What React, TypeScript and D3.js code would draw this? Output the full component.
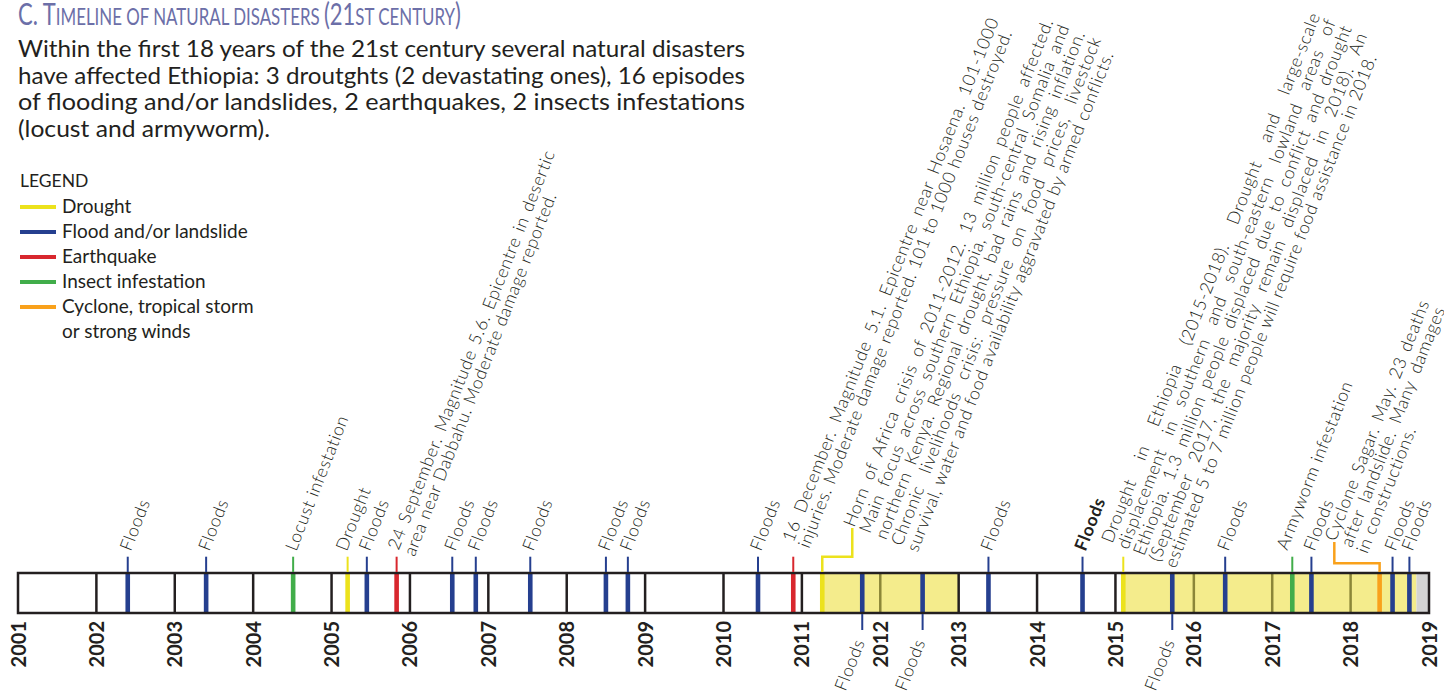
import * as d3 from "d3";
import { useEffect } from "react";

// axis years
const yearTicks = d3.range(2001, 2020);

// events, as decimal years
const floodDates = [2002.4, 2003.4, 2005.45, 2006.54, 2006.84, 2007.535, 2008.5, 2008.78, 2010.44, 2011.77, 2012.54, 2013.38, 2014.58, 2015.725, 2016.4, 2017.5, 2018.535, 2018.75];
const floodBelow = [0, 0, 0, 0, 0, 0, 0, 0, 0, 1, 1, 0, 0, 1, 0, 0, 0, 0];
const floodBold = [0, 0, 0, 0, 0, 0, 0, 0, 0, 0, 0, 0, 1, 0, 0, 0, 0, 0];

const droughtDates = [2005.205, 2011.26, 2015.1];
const droughtEnds = [2005.205, 2013.0, 2018.84];
const droughtLabels = [
  ["Drought"],
  [
    "Horn of Africa crisis of 2011-2012. 13 million people affected.",
    "Main focus across southern Ethiopia, south-central Somalia and",
    "northern Kenya. Regional drought, bad rains and rising inflation.",
    "Chronic livelihoods crisis: pressure on food prices, livestock",
    "survival, water and food availability aggravated by armed conflicts.",
  ],
  [
    "Drought in Ethiopia (2015-2018). Drought and large-scale",
    "displacement in southern and south-eastern lowland areas of",
    "Ethiopia. 1.3 million people displaced due to conflict and drought",
    "(September 2017, the majority remain displaced in 2018). An",
    "estimated 5 to 7 million people will require food assistance in 2018.",
  ],
];

const quakeDates = [2005.83, 2010.89];
const quakeLabels = [
  ["24 September. Magnitude 5.6. Epicentre in desertic", "area near Dabbahu. Moderate damage reported."],
  ["16 December. Magnitude 5.1. Epicentre near Hosaena. 101-1000", "injuries. Moderate damage reported. 101 to 1000 houses destroyed."],
];

const insectDates = [2004.51, 2017.256];
const insectLabels = ["Locust infestation", "Armyworm infestation"];

const cycloneDates = [2018.37];
const cycloneLabels = [["Cyclone Sagar. May. 23 deaths", "after landslide. Many damages", "in constructions."]];

const noDataStart = [2018.84];
const noDataEnd = [2019];

const legendKeys = ["drought", "flood", "quake", "insect", "cyclone"];
const legendLabels = [["Drought"], ["Flood and/or landslide"], ["Earthquake"], ["Insect infestation"], ["Cyclone, tropical storm", "or strong winds"]];

const introLines = [
  "Within the first 18 years of the 21st century several natural disasters",
  "have affected Ethiopia: 3 droutghts (2 devastating ones), 16 episodes",
  "of flooding and/or landslides, 2 earthquakes, 2 insects infestations",
  "(locust and armyworm).",
];

const colors: Record<string, string> = {
  drought: "#ece21c",
  flood: "#253f8f",
  quake: "#d8272e",
  insect: "#41ad4a",
  cyclone: "#f9a11b",
};

const W = 1444;
const H = 697;
const boxTop = 573;
const boxBottom = 613;
const tickTop = 556.7;
const tickBottom = 630;
const ANG = -68.5;
const FS = 17.5;
const LS = 0.6;
const LH = 17;
const WT = 300;
const ink = "#231f20";

let ctx: CanvasRenderingContext2D | null = null;
function measure(s: string, size: number, weight = 400) {
  if (!ctx) ctx = document.createElement("canvas").getContext("2d");
  if (!ctx) return s.length * size * 0.5;
  ctx.font = `${weight} ${size}px Lato`;
  return ctx.measureText(s).width + LS * s.length;
}

// label placement: first baseline start relative to the mark
const place: Record<string, { dx: number; y: number; width?: number; leader?: [number, number] }> = {
  "drought-0": { dx: -1, y: 552 },
  "drought-1": { dx: 32, y: 528, width: 545 },
  "drought-2": { dx: -11, y: 544, width: 568 },
  "quake-0": { dx: 2, y: 551, width: 428 },
  "quake-1": { dx: 0, y: 543, width: 562 },
  "cyclone-0": { dx: -44, y: 542, width: 257 },
  "insect-1": { dx: -5, y: 551 },
};
place["drought-1"].leader = [30, 556.7];
place["cyclone-0"].leader = [-45.3, 563.3];

function Label({ x, y, lines, width, bold = false, anchor = "start" }: any) {
  const wt = bold ? 700 : WT;
  return (
    <text
      transform={`translate(${x},${y}) rotate(${ANG})`}
      fontFamily="Lato"
      fontSize={FS}
      letterSpacing={LS}
      fontWeight={wt}
      fill={ink}
      textAnchor={anchor}
    >
      {lines.map((l: string, i: number) => {
        let ws = 0;
        if (width && i < lines.length - 1) {
          const spaces = (l.match(/ /g) || []).length;
          ws = (width - measure(l, FS, wt)) / Math.max(1, spaces);
        }
        return (
          <tspan key={i} x={0} y={i * LH} wordSpacing={ws}>
            {l}
          </tspan>
        );
      })}
    </text>
  );
}

export default function App() {
  useEffect(() => {
    document.body.style.margin = "0";
  }, []);

  const x = d3.scaleLinear().domain([2001, 2019]).range([18, 1429]);

  type Ev = { t: number; type: string; key: string; lines: string[]; below?: boolean; bold?: boolean };
  const events: Ev[] = [];
  floodDates.forEach((t, i) => events.push({ t, type: "flood", key: `flood-${i}`, lines: ["Floods"], below: !!floodBelow[i], bold: !!floodBold[i] }));
  droughtDates.forEach((t, i) => events.push({ t, type: "drought", key: `drought-${i}`, lines: droughtLabels[i] }));
  quakeDates.forEach((t, i) => events.push({ t, type: "quake", key: `quake-${i}`, lines: quakeLabels[i] }));
  insectDates.forEach((t, i) => events.push({ t, type: "insect", key: `insect-${i}`, lines: [insectLabels[i]] }));
  cycloneDates.forEach((t, i) => events.push({ t, type: "cyclone", key: `cyclone-${i}`, lines: cycloneLabels[i] }));

  const bands = droughtDates
    .map((s, i) => ({ s, e: droughtEnds[i] }))
    .filter((b) => b.e > b.s);
  const inBand = (t: number) => bands.some((b) => t > b.s && t < b.e);

  return (
    <svg width={W} height={H} style={{ position: "absolute", left: 0, top: 0, background: "#fff" }}>
      {/* title */}
      <text x={18} y={24.5} fill="#6c6fa8" fontFamily="Lato" textLength={443} lengthAdjust="spacingAndGlyphs">
        <tspan fontSize={30}>C. T</tspan>
        <tspan fontSize={23}>IMELINE OF NATURAL DISASTERS </tspan>
        <tspan fontSize={30}>(21</tspan>
        <tspan fontSize={23}>ST CENTURY</tspan>
        <tspan fontSize={30}>)</tspan>
      </text>

      {introLines.map((l, i) => (
        <text
          key={i}
          x={18}
          y={57 + i * 26.5}
          fontFamily="Lato"
          fontSize={22.5}
          fill={ink}
          textLength={i < 3 ? 727 : 252}
          lengthAdjust="spacingAndGlyphs"
        >
          {l}
        </text>
      ))}

      {/* legend */}
      <text x={20} y={187} fontFamily="Lato" fontSize={17.5} fill={ink}>
        LEGEND
      </text>
      {legendKeys.map((k, i) => (
        <g key={k} transform={`translate(0,${207 + i * 25})`}>
          <line x1={20} x2={56} y1={0} y2={0} stroke={colors[k]} strokeWidth={4} />
          {legendLabels[i].map((l, j) => (
            <text key={j} x={62} y={6 + j * 25} fontFamily="Lato" fontSize={19} fill={ink}>
              {l}
            </text>
          ))}
        </g>
      ))}

      {/* bar */}
      <rect x={x(2001)} y={boxTop} width={x(2019) - x(2001)} height={boxBottom - boxTop} fill="#fff" />
      {bands.map((b, i) => (
        <rect key={i} x={x(b.s)} y={boxTop} width={x(b.e) - x(b.s)} height={boxBottom - boxTop} fill="#f4ec8c" />
      ))}
      {noDataStart.map((s, i) => (
        <rect key={i} x={x(s)} y={boxTop} width={x(noDataEnd[i]) - x(s)} height={boxBottom - boxTop} fill="#d4d4d4" />
      ))}
      {yearTicks.slice(1, -1).map((yr) => (
        <line key={yr} x1={x(yr)} x2={x(yr)} y1={boxTop} y2={boxBottom} stroke={inBand(yr) ? "#8b8638" : ink} strokeWidth={2.5} />
      ))}

      {events.map((e) => (
        <rect key={e.key} x={x(e.t) - 2.3} y={boxTop} width={4.6} height={boxBottom - boxTop} fill={colors[e.type]} />
      ))}

      <rect x={x(2001)} y={boxTop} width={x(2019) - x(2001)} height={boxBottom - boxTop} fill="none" stroke={ink} strokeWidth={2.5} />

      {/* ticks, leaders and labels */}
      {events.map((e) => {
        const tx = x(e.t);
        const p = place[e.key];
        if (p && p.leader) {
          const [ldx, ly] = p.leader;
          return (
            <g key={e.key}>
              <path
                d={`M${tx},${boxTop - 1} V${ly} H${tx + ldx} V${p.y}`}
                fill="none"
                stroke={colors[e.type]}
                strokeWidth={2.5}
              />
              <Label x={tx + p.dx} y={p.y} lines={e.lines} width={p.width} />
            </g>
          );
        }
        if (e.below) {
          return (
            <g key={e.key}>
              <line x1={tx} x2={tx} y1={boxBottom + 1} y2={tickBottom} stroke={colors[e.type]} strokeWidth={2} />
              <Label x={tx + 3} y={642} lines={e.lines} anchor="end" bold={e.bold} />
            </g>
          );
        }
        const dx = p ? p.dx : 3;
        const y = p ? p.y : 552;
        return (
          <g key={e.key}>
            <line x1={tx} x2={tx} y1={tickTop} y2={boxTop - 1} stroke={colors[e.type]} strokeWidth={2} />
            <Label x={tx + dx} y={y} lines={e.lines} width={p && p.width} bold={e.bold} />
          </g>
        );
      })}

      {/* year labels */}
      {yearTicks.map((yr) => (
        <text
          key={yr}
          transform={`translate(${x(yr) + 7.5},621) rotate(-90)`}
          textAnchor="end"
          fontFamily="Lato"
          fontWeight={700}
          fontSize={20}
          fill={ink}
        >
          {yr}
        </text>
      ))}
    </svg>
  );
}
